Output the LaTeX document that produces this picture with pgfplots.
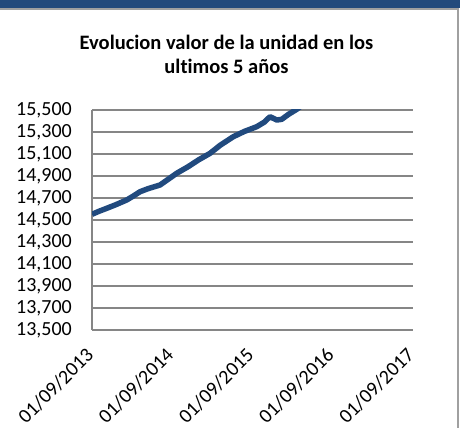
\documentclass[border=0pt]{standalone}
\usepackage{pgfplots}
\pgfplotsset{compat=1.18}
\usepackage{fontspec}
\setmainfont{Carlito}[Ligatures={NoCommon}]
\definecolor{lineblue}{RGB}{33,74,126}
\definecolor{gridgray}{RGB}{134,134,134}
\definecolor{bandblue}{RGB}{35,74,124}
\definecolor{bordergray}{RGB}{160,160,160}
\begin{document}
\begin{tikzpicture}
\useasboundingbox (0pt,0pt) rectangle (460pt,428pt);
\fill[bandblue] (0pt,420pt) rectangle (460pt,428pt);
\draw[bordergray, line width=2pt] (0pt,418.5pt) -- (457.5pt,418.5pt) -- (457.5pt,0pt);
\node[font=\fontsize{20.5}{24}\selectfont\bfseries, anchor=base, inner sep=0pt] at (226.5pt,378.7pt) {Evolucion valor de la unidad en los};
\node[font=\fontsize{20.5}{24}\selectfont\bfseries, anchor=base, inner sep=0pt] at (226.5pt,354pt) {ultimos 5 años};
\begin{axis}[
  at={(92pt,98pt)}, anchor=south west,
  scale only axis, width=320.7pt, height=220pt,
  xmin=0, xmax=4, ymin=13500, ymax=15500,
  enlargelimits=false, clip=true,
  scaled y ticks=false,
  axis x line=none,
  axis y line*=left,
  axis line style={draw=gridgray, line width=1.2pt, -},
  ymajorgrids, major grid style={draw=gridgray, line width=1.2pt},
  major tick length=0pt,
  ytick={13500,13700,13900,14100,14300,14500,14700,14900,15100,15300,15500},
  yticklabels={{13,500},{13,700},{13,900},{14,100},{14,300},{14,500},{14,700},{14,900},{15,100},{15,300},{15,500}},
  yticklabel style={font=\fontsize{20}{24}\selectfont, inner sep=0pt, anchor=east, xshift=-20pt},
]
\addplot[lineblue, line width=5.5pt, line join=round] table {
t v
0.000 14552
0.090 14580
0.183 14606
0.300 14640
0.433 14682
0.520 14720
0.599 14757
0.700 14785
0.848 14818
0.950 14870
1.057 14925
1.200 14985
1.326 15045
1.472 15106
1.600 15180
1.762 15257
1.900 15305
2.054 15348
2.150 15390
2.220 15439
2.304 15409
2.366 15415
2.450 15460
2.553 15506
2.650 15560
};
\end{axis}
\begin{axis}[
  at={(92pt,98pt)}, anchor=south west,
  scale only axis, width=320.7pt, height=220pt,
  xmin=0, xmax=4, ymin=13500, ymax=15500,
  enlargelimits=false,
  scaled y ticks=false,
  axis x line*=bottom, axis y line=none,
  axis line style={draw=gridgray, line width=1.2pt, -},
  major tick length=0pt,
  xtick={0,1,2,3,4},
  xticklabels={01/09/2013,01/09/2014,01/09/2015,01/09/2016,01/09/2017},
  xticklabel style={font=\fontsize{20}{24}\selectfont, inner sep=0pt, xshift=-2pt, yshift=-21.7pt, rotate=45, anchor=east},
]
\addplot[draw=none] coordinates {(0,13500)};
\end{axis}
\end{tikzpicture}
\end{document}
